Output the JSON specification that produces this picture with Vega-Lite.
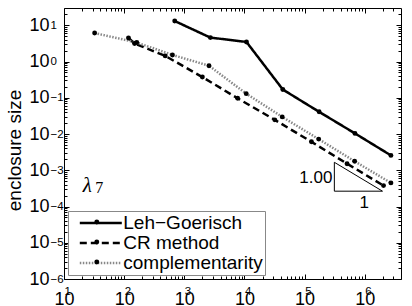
{
  "$schema": "https://vega.github.io/schema/vega-lite/v6.json",
  "width": 337,
  "height": 271,
  "autosize": {"type": "none"},
  "padding": {"left": 64, "top": 8, "right": 11, "bottom": 27},
  "background": "white",
  "config": {
    "view": {"stroke": "black", "strokeWidth": 1},
    "font": "Liberation Sans",
    "axis": {"grid": false, "domain": false, "labelFont": "Liberation Sans", "labelColor": "black", "tickColor": "black", "titleColor": "black", "labelFlush": false, "labelOverlap": false, "title": null}
  },
  "datasets": {
    "pts": [
      {"series": "Leh−Goerisch", "x": 693, "y": 13.1},
      {"series": "Leh−Goerisch", "x": 2710, "y": 4.58},
      {"series": "Leh−Goerisch", "x": 10800, "y": 3.47},
      {"series": "Leh−Goerisch", "x": 43400, "y": 0.169},
      {"series": "Leh−Goerisch", "x": 174000, "y": 0.041},
      {"series": "Leh−Goerisch", "x": 687000, "y": 0.0104},
      {"series": "Leh−Goerisch", "x": 2720000, "y": 0.00257},
      {"series": "CR method", "x": 118, "y": 4.45},
      {"series": "CR method", "x": 149, "y": 3.14},
      {"series": "CR method", "x": 482, "y": 1.43},
      {"series": "CR method", "x": 1995, "y": 0.373},
      {"series": "CR method", "x": 7690, "y": 0.0969},
      {"series": "CR method", "x": 31900, "y": 0.0246},
      {"series": "CR method", "x": 129800, "y": 0.0061},
      {"series": "CR method", "x": 507000, "y": 0.00152},
      {"series": "CR method", "x": 2050000, "y": 0.000377},
      {"series": "complementarity", "x": 32.3, "y": 6.1},
      {"series": "complementarity", "x": 162, "y": 3.35},
      {"series": "complementarity", "x": 635, "y": 1.52},
      {"series": "complementarity", "x": 2570, "y": 0.767},
      {"series": "complementarity", "x": 10700, "y": 0.13},
      {"series": "complementarity", "x": 42400, "y": 0.0297},
      {"series": "complementarity", "x": 171000, "y": 0.00724},
      {"series": "complementarity", "x": 678000, "y": 0.00177},
      {"series": "complementarity", "x": 2720000, "y": 0.000448}
    ],
    "tri": [
      {"i": 0, "x": 312000, "y": 0.00166},
      {"i": 1, "x": 312000, "y": 0.000265},
      {"i": 2, "x": 1970000, "y": 0.000265},
      {"i": 3, "x": 312000, "y": 0.00166}
    ]
  },
  "resolve": {"axis": {"x": "independent", "y": "independent"}},
  "layer": [
    {
      "data": {"name": "pts"},
      "mark": {"type": "line"},
      "encoding": {
        "x": {"field": "x", "type": "quantitative", "scale": {"type": "log", "domain": [10, 4000000], "nice": false},
          "axis": {"orient": "bottom", "values": [10, 100, 1000, 10000, 100000, 1000000], "labelExpr": "'10'", "ticks": false, "labelFontSize": 18, "labelPadding": 11, "labelAlign": "center", "labelDx": -1, "labelBaseline": "top"}},
        "y": {"field": "y", "type": "quantitative", "scale": {"type": "log", "domain": [0.000001, 30], "nice": false},
          "axis": {"orient": "left", "values": [0.000001, 0.00001, 0.0001, 0.001, 0.01, 0.1, 1, 10], "labelExpr": "'10'", "ticks": false, "labelFontSize": 18, "labelPadding": 15, "labelAlign": "right", "labelBaseline": "middle", "title": "enclosure size", "titleFontSize": 19, "titleFont": "Liberation Sans", "titleFontWeight": "normal", "titleX": -40, "titleY": 142, "titleAngle": 270, "titleBaseline": "bottom", "titleAlign": "center"}},
        "color": {"field": "series", "type": "nominal", "scale": {"domain": ["Leh−Goerisch", "CR method", "complementarity"], "range": ["black", "black", "#888888"]},
          "legend": {"orient": "bottom-left", "offset": 4, "title": null, "padding": 2, "fillColor": "white", "strokeColor": "#888888", "symbolType": "M-4.2,0H4.2", "symbolSize": 100, "symbolOffset": 21.3, "labelOffset": 13, "labelFontSize": 19, "labelFont": "Liberation Sans", "labelColor": "black", "clipHeight": 20, "rowPadding": -1, "labelLimit": 300}},
        "strokeDash": {"field": "series", "type": "nominal", "scale": {"domain": ["Leh−Goerisch", "CR method", "complementarity"], "range": [[1, 0], [7, 4], [1.5, 1.5]]},
          "legend": {"orient": "bottom-left", "offset": 4, "title": null, "padding": 2, "fillColor": "white", "strokeColor": "#888888", "symbolType": "M-4.2,0H4.2", "symbolSize": 100, "symbolOffset": 21.3, "labelOffset": 13, "labelFontSize": 19, "labelFont": "Liberation Sans", "labelColor": "black", "clipHeight": 20, "rowPadding": -1, "labelLimit": 300}},
        "strokeWidth": {"field": "series", "type": "nominal", "scale": {"domain": ["Leh−Goerisch", "CR method", "complementarity"], "range": [2.5, 2.5, 1.5]},
          "legend": {"orient": "bottom-left", "offset": 4, "title": null, "padding": 2, "fillColor": "white", "strokeColor": "#888888", "symbolType": "M-4.2,0H4.2", "symbolSize": 100, "symbolOffset": 21.3, "labelOffset": 13, "labelFontSize": 19, "labelFont": "Liberation Sans", "labelColor": "black", "clipHeight": 20, "rowPadding": -1, "labelLimit": 300}}
      }
    },
    {
      "data": {"name": "pts"},
      "mark": {"type": "point", "filled": true, "color": "black", "size": 24, "opacity": 1},
      "encoding": {
        "x": {"field": "x", "type": "quantitative", "scale": {"type": "log", "domain": [10, 4000000], "nice": false},
          "axis": {"orient": "bottom", "values": [10, 100, 1000, 10000, 100000, 1000000], "labelExpr": "replace('' + round(log(datum.value) / LN10), '-', '−')", "ticks": false, "labelFontSize": 11.5, "labelPadding": 6, "labelAlign": "left", "labelDx": 9, "labelBaseline": "top"}},
        "y": {"field": "y", "type": "quantitative", "scale": {"type": "log", "domain": [0.000001, 30], "nice": false},
          "axis": {"orient": "left", "values": [0.000001, 0.00001, 0.0001, 0.001, 0.01, 0.1, 1, 10], "labelExpr": "replace('' + round(log(datum.value) / LN10), '-', '−')", "ticks": false, "labelFontSize": 11.5, "labelPadding": 14, "labelAlign": "left", "labelBaseline": "middle", "labelDy": -8}},
        "shape": {"field": "series", "type": "nominal", "scale": {"domain": ["Leh−Goerisch", "CR method", "complementarity"], "range": ["circle", "circle", "circle"]},
          "legend": {"orient": "none", "legendX": 4, "legendY": 202, "title": null, "padding": 2, "symbolSize": 24, "symbolFillColor": "black", "symbolStrokeColor": "black", "symbolStrokeWidth": 0, "symbolOffset": 17.3, "labelOpacity": 0, "labelFontSize": 19, "clipHeight": 20, "rowPadding": -1}}
      }
    },
    {
      "data": {"name": "tri"},
      "mark": {"type": "line", "color": "black", "strokeWidth": 1},
      "encoding": {
        "x": {"field": "x", "type": "quantitative", "scale": {"type": "log", "domain": [10, 4000000], "nice": false},
          "axis": {"orient": "bottom", "values": [10, 100, 1000, 10000, 100000, 1000000], "labels": false, "tickSize": -5, "tickWidth": 1}},
        "y": {"field": "y", "type": "quantitative", "scale": {"type": "log", "domain": [0.000001, 30], "nice": false},
          "axis": {"orient": "left", "values": [0.000001, 0.00001, 0.0001, 0.001, 0.01, 0.1, 1, 10], "labels": false, "tickSize": -5, "tickWidth": 1}},
        "order": {"field": "i", "type": "quantitative"}
      }
    },
    {
      "data": {"values": [{"x": 312000, "y": 0.0006, "label": "1.00"}]},
      "mark": {"type": "text", "font": "Liberation Sans", "fontSize": 17, "color": "black", "align": "right", "baseline": "middle", "dx": -2},
      "encoding": {
        "x": {"field": "x", "type": "quantitative", "scale": {"type": "log", "domain": [10, 4000000], "nice": false},
          "axis": {"orient": "bottom", "values": [20, 30, 40, 50, 60, 70, 80, 90, 200, 300, 400, 500, 600, 700, 800, 900, 2000, 3000, 4000, 5000, 6000, 7000, 8000, 9000, 20000, 30000, 40000, 50000, 60000, 70000, 80000, 90000, 200000, 300000, 400000, 500000, 600000, 700000, 800000, 900000, 2000000, 3000000], "labels": false, "tickSize": -3, "tickWidth": 1}},
        "y": {"field": "y", "type": "quantitative", "scale": {"type": "log", "domain": [0.000001, 30], "nice": false},
          "axis": {"orient": "left", "values": [2e-6, 3e-6, 4e-6, 5e-6, 6e-6, 7e-6, 8e-6, 9e-6, 2e-5, 3e-5, 4e-5, 5e-5, 6e-5, 7e-5, 8e-5, 9e-5, 2e-4, 3e-4, 4e-4, 5e-4, 6e-4, 7e-4, 8e-4, 9e-4, 2e-3, 3e-3, 4e-3, 5e-3, 6e-3, 7e-3, 8e-3, 9e-3, 0.02, 0.03, 0.04, 0.05, 0.06, 0.07, 0.08, 0.09, 0.2, 0.3, 0.4, 0.5, 0.6, 0.7, 0.8, 0.9, 2, 3, 4, 5, 6, 7, 8, 9, 20], "labels": false, "tickSize": -3, "tickWidth": 1}},
        "text": {"field": "label"}
      }
    },
    {
      "data": {"values": [{"x": 980000, "y": 0.000265, "label": "1"}]},
      "mark": {"type": "text", "font": "Liberation Sans", "fontSize": 17, "color": "black", "align": "center", "baseline": "top", "dy": 4},
      "encoding": {
        "x": {"field": "x", "type": "quantitative", "scale": {"type": "log", "domain": [10, 4000000], "nice": false},
          "axis": {"orient": "top", "values": [10, 100, 1000, 10000, 100000, 1000000], "labels": false, "tickSize": -5, "tickWidth": 1}},
        "y": {"field": "y", "type": "quantitative", "scale": {"type": "log", "domain": [0.000001, 30], "nice": false},
          "axis": {"orient": "right", "values": [0.000001, 0.00001, 0.0001, 0.001, 0.01, 0.1, 1, 10], "labels": false, "tickSize": -5, "tickWidth": 1}},
        "text": {"field": "label"}
      }
    },
    {
      "data": {"values": [{"x": 20.5, "y": 0.000254, "sym": "λ", "sub": "7"}]},
      "mark": {"type": "text", "font": "Liberation Serif", "fontStyle": "italic", "fontSize": 21, "color": "black", "align": "left", "baseline": "alphabetic"},
      "encoding": {
        "x": {"field": "x", "type": "quantitative", "scale": {"type": "log", "domain": [10, 4000000], "nice": false},
          "axis": {"orient": "top", "values": [20, 30, 40, 50, 60, 70, 80, 90, 200, 300, 400, 500, 600, 700, 800, 900, 2000, 3000, 4000, 5000, 6000, 7000, 8000, 9000, 20000, 30000, 40000, 50000, 60000, 70000, 80000, 90000, 200000, 300000, 400000, 500000, 600000, 700000, 800000, 900000, 2000000, 3000000], "labels": false, "tickSize": -3, "tickWidth": 1}},
        "y": {"field": "y", "type": "quantitative", "scale": {"type": "log", "domain": [0.000001, 30], "nice": false},
          "axis": {"orient": "right", "values": [2e-6, 3e-6, 4e-6, 5e-6, 6e-6, 7e-6, 8e-6, 9e-6, 2e-5, 3e-5, 4e-5, 5e-5, 6e-5, 7e-5, 8e-5, 9e-5, 2e-4, 3e-4, 4e-4, 5e-4, 6e-4, 7e-4, 8e-4, 9e-4, 2e-3, 3e-3, 4e-3, 5e-3, 6e-3, 7e-3, 8e-3, 9e-3, 0.02, 0.03, 0.04, 0.05, 0.06, 0.07, 0.08, 0.09, 0.2, 0.3, 0.4, 0.5, 0.6, 0.7, 0.8, 0.9, 2, 3, 4, 5, 6, 7, 8, 9, 20], "labels": false, "tickSize": -3, "tickWidth": 1}},
        "text": {"field": "sym"}
      }
    },
    {
      "data": {"values": [{"x": 20.5, "y": 0.000254, "sym": "λ", "sub": "7"}]},
      "mark": {"type": "text", "font": "Liberation Serif", "fontSize": 16, "color": "black", "align": "left", "baseline": "alphabetic", "dx": 12.5, "dy": 1},
      "encoding": {
        "x": {"field": "x", "type": "quantitative", "scale": {"type": "log", "domain": [10, 4000000], "nice": false}, "axis": null},
        "y": {"field": "y", "type": "quantitative", "scale": {"type": "log", "domain": [0.000001, 30], "nice": false}, "axis": null},
        "text": {"field": "sub"}
      }
    }
  ]
}
